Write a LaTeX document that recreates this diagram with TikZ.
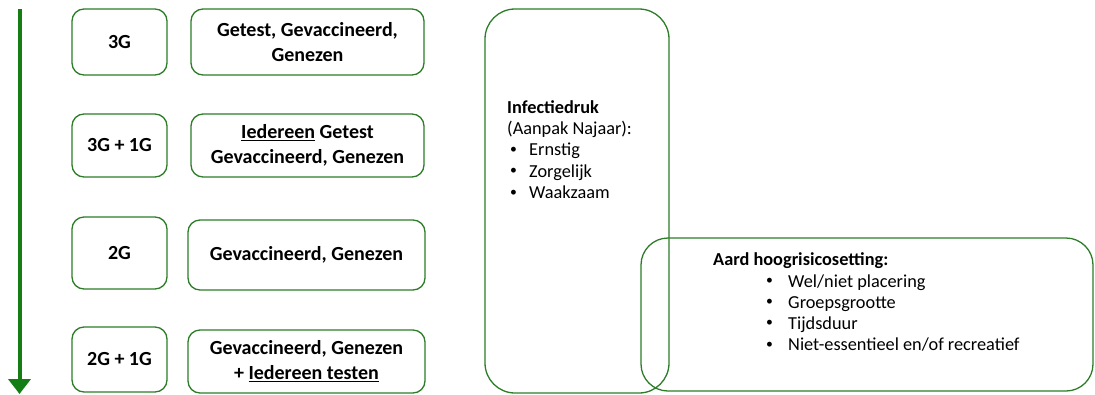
\documentclass[tikz,border=0pt]{standalone}
\usepackage{fontspec}
\usepackage{graphicx}
\setmainfont{Carlito}
\usetikzlibrary{arrows.meta}
\definecolor{boxgreen}{RGB}{45,125,40}
\definecolor{arrowgreen}{RGB}{20,125,20}
\newcommand{\smbul}{\raisebox{0.12em}{\scalebox{0.75}{\textbullet}}}
\begin{document}
\begin{tikzpicture}[x=1pt,y=-1pt,
  gbox/.style={draw=boxgreen,line width=1.3pt,rounded corners=12pt,rectangle,inner sep=0pt,align=center,font=\fontsize{20}{25}\selectfont\bfseries},
  bigbox/.style={draw=boxgreen,line width=1.3pt,rectangle,inner sep=0pt},
  ln/.style={inner sep=0pt,anchor=base west,font=\fontsize{18.3}{21}\selectfont}]
\useasboundingbox (0,0) rectangle (1095,394);
% arrow
\coordinate (atop) at (19.5,9);
\coordinate (abot) at (19.5,394);
\draw[arrowgreen,line width=4pt,-{Triangle[width=22pt,length=15pt]}] (atop) -- (abot);
% left column
\node[gbox,minimum width=95pt,minimum height=66pt] (l1) at (119.5,42) {3G};
\node[gbox,minimum width=95pt,minimum height=63pt] (l2) at (119.5,145.5) {3G + 1G};
\node[gbox,minimum width=95pt,minimum height=72pt] (l3) at (119.5,253) {2G};
\node[gbox,minimum width=95pt,minimum height=65pt] (l4) at (119.5,359.5) {2G + 1G};
% right column
\node[gbox,minimum width=233pt,minimum height=66pt] (r1) at (307.5,42) {Getest, Gevaccineerd,\\Genezen};
\node[gbox,minimum width=233pt,minimum height=63pt] (r2) at (307.5,145.5) {\underline{Iedereen} Getest\\Gevaccineerd, Genezen};
\node[gbox,minimum width=237pt,minimum height=70pt] (r3) at (306.5,255) {Gevaccineerd, Genezen};
\node[gbox,minimum width=237pt,minimum height=63pt] (r4) at (306.5,361.5) {Gevaccineerd, Genezen\\+ \underline{Iedereen testen}};
% big boxes
\node[bigbox,rounded corners=30pt,minimum width=184pt,minimum height=384pt] (inf) at (577,201) {};
\node[bigbox,rounded corners=27pt,minimum width=452pt,minimum height=153pt] (aard) at (867,314.5) {};
% Infectiedruk text
\node[ln] (i1) at (507,113) {\textbf{Infectiedruk}};
\node[ln] (i2) at (507,134) {(Aanpak Najaar):};
\node[ln] (i3) at (510,155.5) {\smbul};
\node[ln] (i3t) at (529,155.5) {Ernstig};
\node[ln] (i4) at (510,177) {\smbul};
\node[ln] (i4t) at (529,177) {Zorgelijk};
\node[ln] (i5) at (510,198.5) {\smbul};
\node[ln] (i5t) at (529,198.5) {Waakzaam};
% Aard text
\node[ln] (a0) at (713,265) {\textbf{Aard hoogrisicosetting:}};
\node[ln] (a1) at (766,287) {\smbul};
\node[ln] (a1t) at (788,287) {Wel/niet placering};
\node[ln] (a2) at (766,308) {\smbul};
\node[ln] (a2t) at (788,308) {Groepsgrootte};
\node[ln] (a3) at (766,329) {\smbul};
\node[ln] (a3t) at (788,329) {Tijdsduur};
\node[ln] (a4) at (766,350.5) {\smbul};
\node[ln] (a4t) at (788,350.5) {Niet-essentieel en/of recreatief};
\end{tikzpicture}
\end{document}
